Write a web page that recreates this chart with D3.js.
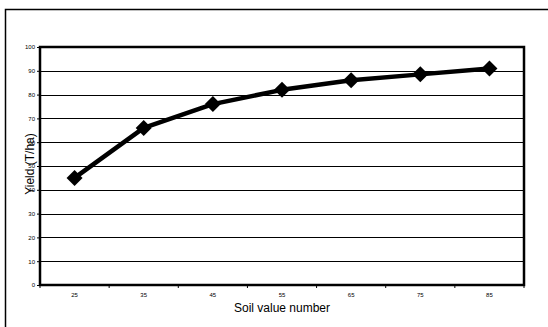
<!DOCTYPE html>
<html><head><meta charset="utf-8">
<script src="https://cdn.jsdelivr.net/npm/d3@7"></script>
<style>body{margin:0;background:#fff}svg{display:block;font-family:Arial,"Liberation Sans",sans-serif}</style>
</head><body>
<script>
const categories = ["25","35","45","55","65","75","85"];
const yieldValues = [45, 66, 76, 82, 86, 88.5, 91];
const yTicks = [0,10,20,30,40,50,60,70,80,90,100];

const W = 548, H = 327;
const m = {left: 40, top: 47, right: 524, bottom: 285};
const svg = d3.select("body").append("svg").attr("width", W).attr("height", H);

// outer frame
svg.append("path").attr("d", `M5.5,${H} V9.5 H${W}`).attr("fill","none").attr("stroke","#000").attr("stroke-width",1.5);

const x = d3.scaleBand().domain(categories).range([m.left, m.right]);
const y = d3.scaleLinear().domain([0,100]).range([m.bottom, m.top]);

// gridlines
svg.append("g").selectAll("line").data(yTicks.slice(1, -1)).join("line")
  .attr("x1", m.left).attr("x2", m.right)
  .attr("y1", d => Math.round(y(d)) + 0.5).attr("y2", d => Math.round(y(d)) + 0.5)
  .attr("stroke", "#000").attr("stroke-width", 1);

// y axis
const yAxis = svg.append("g").attr("transform", `translate(${m.left},0)`)
  .call(d3.axisLeft(y).tickValues(yTicks).tickSize(3).tickPadding(2));
yAxis.select(".domain").remove();
yAxis.selectAll("text").attr("font-size", 6).attr("fill", "#000");

// x axis ticks at band boundaries
const xAxis = svg.append("g").attr("transform", `translate(0,${m.bottom})`)
  .call(d3.axisBottom(x).tickSize(0).tickPadding(8));
xAxis.select(".domain").remove();
xAxis.selectAll("text").attr("font-size", 6).attr("fill", "#000");
const bounds = categories.map(c => x(c)).concat([m.right]);
svg.append("g").selectAll("line").data(bounds).join("line")
  .attr("x1", d => d).attr("x2", d => d)
  .attr("y1", m.bottom).attr("y2", m.bottom + 3)
  .attr("stroke", "#000").attr("stroke-width", 1);

// plot border
svg.append("rect").attr("x", m.left).attr("y", m.top)
  .attr("width", m.right - m.left).attr("height", m.bottom - m.top)
  .attr("fill", "none").attr("stroke", "#000").attr("stroke-width", 2.5);

// line
const line = d3.line().x((d,i) => x(categories[i]) + x.bandwidth()/2).y(d => y(d));
svg.append("path").datum(yieldValues).attr("d", line)
  .attr("fill","none").attr("stroke","#000").attr("stroke-width",4.5).attr("stroke-linejoin","round");

// diamonds
svg.append("g").selectAll("path").data(yieldValues).join("path")
  .attr("transform", (d,i) => `translate(${x(categories[i]) + x.bandwidth()/2},${y(d)})`)
  .attr("d", "M0,-8 L8,0 L0,8 L-8,0 Z").attr("fill", "#000");

// titles
svg.append("text").attr("x", (m.left + m.right)/2).attr("y", 312)
  .attr("text-anchor","middle").attr("font-size", 12).attr("fill","#000").text("Soil value number");
svg.append("text").attr("transform", `translate(34,${(m.top+m.bottom)/2 - 2}) rotate(-90)`)
  .attr("text-anchor","middle").attr("font-size", 12).attr("fill","#000").text("Yield (T/ha)");
</script>
</body></html>
